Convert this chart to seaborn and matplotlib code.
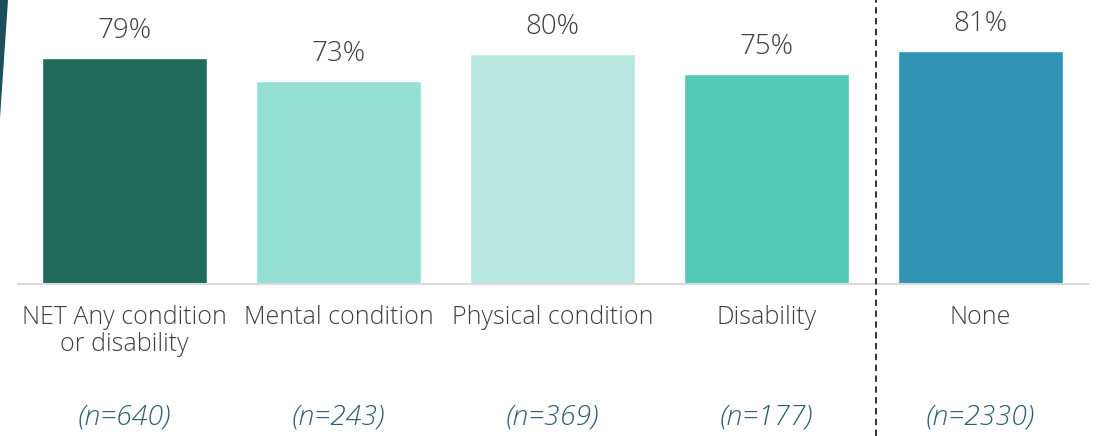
import matplotlib
matplotlib.use("Agg")
import matplotlib.pyplot as plt
import seaborn as sns
import pandas as pd
from matplotlib.patches import Polygon
from matplotlib.lines import Line2D

# chart data
categories = ["NET Any condition\nor disability", "Mental condition",
              "Physical condition", "Disability", "None"]
values = [79, 73, 80, 75, 81]
n_labels = ["(n=640)", "(n=243)", "(n=369)", "(n=177)", "(n=2330)"]
colors = ["#216B5E", "#95E0D4", "#B9E8E1", "#52C9B5", "#3194B5"]

df = pd.DataFrame({"cat": categories, "val": values})

sns.set_style("white")
plt.rcParams["font.family"] = ["Open Sans", "DejaVu Sans"]

fig = plt.figure(figsize=(11.02, 4.36), dpi=100)
ax = fig.add_axes([17.5 / 1102, 152 / 436, 1070 / 1102, 284 / 436])

sns.barplot(data=df, x="cat", y="val", hue="cat", palette=colors,
            width=0.77, legend=False, ax=ax, saturation=1)

# the source chart's value axis does not start at zero
ax.set_xlim(-0.5, 4.5)
ax.set_ylim(20.1, 94.2)
ax.set_xlabel("")
ax.set_ylabel("")
ax.set_yticks([])
ax.set_xticks([])
for s in ["top", "right", "left"]:
    ax.spines[s].set_visible(False)
ax.spines["bottom"].set_color("#D9D9D9")
ax.spines["bottom"].set_linewidth(1.5)

# category labels, one text per line so the first line sits on the same baseline
for i, c in enumerate(categories):
    for k, line in enumerate(c.split("\n")):
        ax.text(i, -(40 + 27 * k) / 284, line, transform=ax.get_xaxis_transform(),
                ha="center", va="baseline", fontsize=18, color="#404040",
                fontweight="light")

# value labels
for i, v in enumerate(values):
    ax.annotate(f"{v}%", (i, v), xytext=(0, 20), textcoords="offset pixels",
                ha="center", va="baseline", fontsize=20, color="#404040",
                fontweight="light")

# sample sizes
for i, n in enumerate(n_labels):
    ax.text(i, -133 / 284, n, transform=ax.get_xaxis_transform(),
            ha="center", va="center", fontsize=20.5, style="italic",
            color="#2E5F70", fontweight="light")

# dashed separator
fig.add_artist(Line2D([876 / 1102, 876 / 1102], [0, 1], color="#222222",
                      linestyle=(0, (3.5, 2.5)), linewidth=1.3))

# decorative corner shape
fig.add_artist(Polygon([(0, 1), (8 / 1102, 1), (0, 1 - 118 / 436)],
                       closed=True, facecolor="#1D4E5E", edgecolor="none",
                       transform=fig.transFigure))

fig.savefig("out.png", dpi=100)
